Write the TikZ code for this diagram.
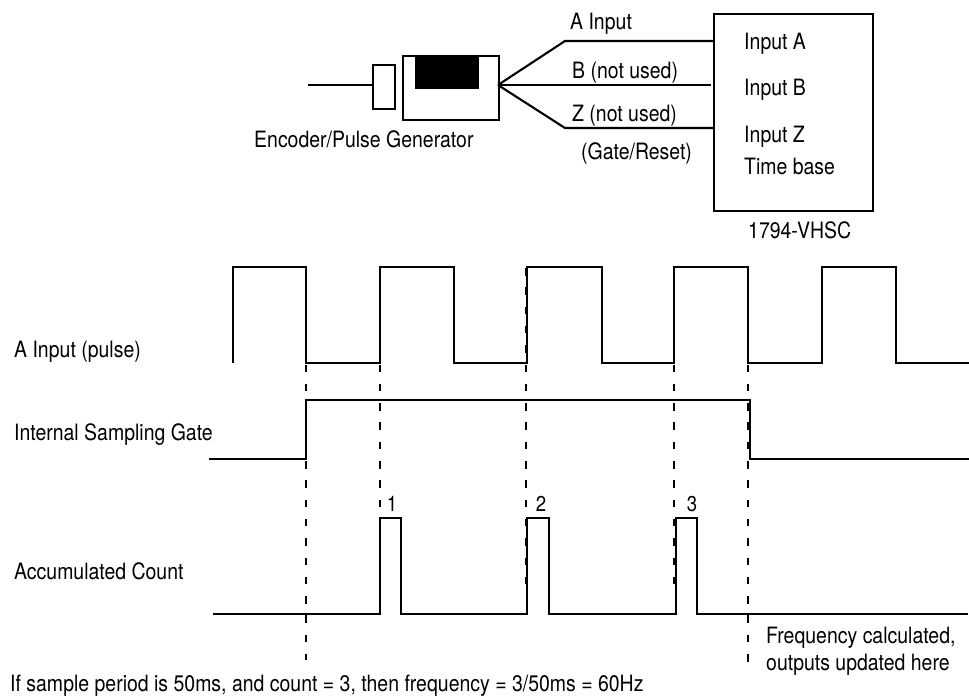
\documentclass[tikz,border=0pt]{standalone}
\usepackage{fontspec}
\setmainfont[FakeStretch=0.865]{TeX Gyre Heros}
\begin{document}
\begin{tikzpicture}[x=1pt,y=-1pt,
  lbl/.style={anchor=base west,inner sep=0pt,font=\fontsize{22.5}{26}\selectfont},
  num/.style={anchor=base,inner sep=0pt,font=\fontsize{21.5}{24}\selectfont},
  wire/.style={line width=2.1pt,line join=miter},
  wave/.style={line width=2.0pt,line join=miter},
  guide/.style={line width=2.0pt,dash pattern=on 7.5pt off 11.8pt},
  box/.style={draw,line width=2.1pt,inner sep=0pt,minimum width=#1,anchor=north west}]
\useasboundingbox (0,0) rectangle (969,696);
% encoder
\coordinate (shaft) at (308,85);
\node[box=22pt,minimum height=44pt] (collar) at (372,64) {};
\node[box=96pt,minimum height=64pt] (body) at (402,55) {};
\node[draw,fill=black,line width=1pt,inner sep=0pt,minimum width=63pt,minimum height=33pt,anchor=north west] (window) at (415,55) {};
\draw[wire] (shaft) -- (shaft -| collar.west);
% module
\node[box=159pt,minimum height=197pt] (module) at (713,13) {};
\coordinate (fan) at (498,85);
\coordinate (ja) at (565,41);
\coordinate (jz) at (565,128);
\draw[wire] (fan) -- (ja) -- (ja -| module.west);
\draw[wire] (fan) -- (711,85);
\draw[wire] (fan) -- (jz) -- (jz -| module.west);
% top labels
\node[lbl] (ta) at (570,29) {A Input};
\node[lbl] (tb) at (572,78) {B (not used)};
\node[lbl] (tz) at (572,121) {Z (not used)};
\node[lbl] (tg) at (581,159) {(Gate/Reset)};
\node[lbl] (enc) at (254,147) {Encoder/Pulse Generator};
\node[lbl] (ia) at (744,49) {Input A};
\node[lbl] (ib) at (744,95) {Input B};
\node[lbl] (iz) at (744,142) {Input Z};
\node[lbl] (tbase) at (744,174) {Time base};
\node[lbl] (vhsc) at (748,238) {1794-VHSC};
% guides
\draw[guide] (306,268) -- (306,660);
\draw[guide] (380,268) -- (380,590);
\draw[guide] (526,268) -- (526,590);
\draw[guide] (674,268) -- (674,590);
\draw[guide] (748,268) -- (748,668);
% waveforms
\draw[wave] (233,363) -- (233,267) -- (306,267) -- (306,363) -- (380,363) -- (380,267) -- (454,267) -- (454,363) -- (527,363) -- (527,267) -- (602,267) -- (602,363) -- (674,363) -- (674,267) -- (748,267) -- (748,363) -- (822,363) -- (822,267) -- (896,267) -- (896,363) -- (969,363);
\draw[wave] (209,459) -- (306,459) -- (306,400) -- (750,400) -- (750,459) -- (969,459);
\draw[wave] (213,614) -- (380,614) -- (380,518) -- (401,518) -- (401,614) -- (527,614) -- (527,518) -- (549,518) -- (549,614) -- (676,614) -- (676,518) -- (697,518) -- (697,614) -- (968,614);
% labels
\node[lbl] (l1) at (14,357) {A Input (pulse)};
\node[lbl] (l2) at (14,440) {Internal Sampling Gate};
\node[lbl] (l3) at (14,579) {Accumulated Count};
\node[num] (n1) at (392,511) {1};
\node[num] (n2) at (541,511) {2};
\node[num] (n3) at (692,511) {3};
\node[lbl] (f1) at (766,643) {Frequency calculated,};
\node[lbl] (f2) at (766,670) {outputs updated here};
\node[lbl] (note) at (10,691) {If sample period is 50ms, and count = 3, then frequency = 3/50ms = 60Hz};
\end{tikzpicture}
\end{document}
